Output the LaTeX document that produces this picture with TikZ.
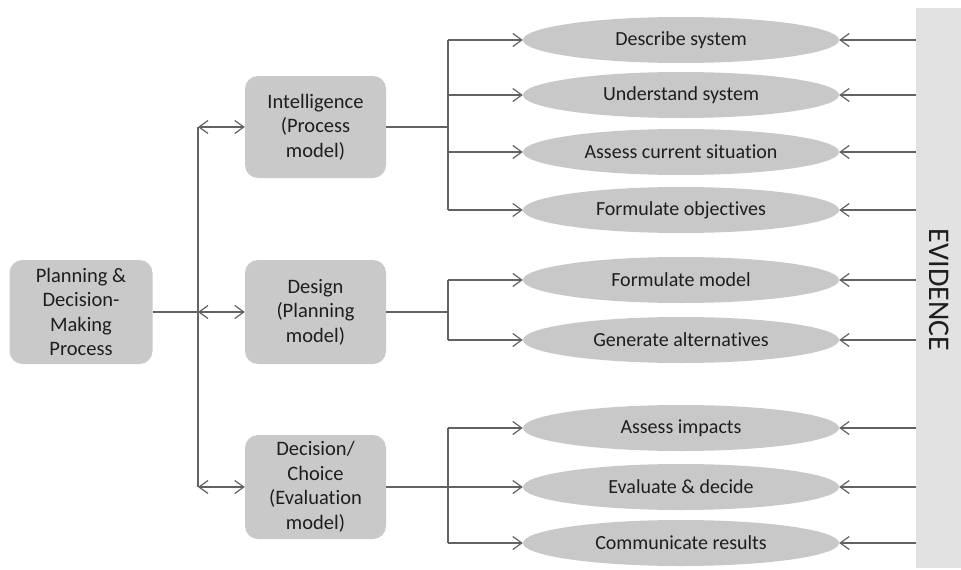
\documentclass[tikz,border=0pt]{standalone}
\usepackage{fontspec}
\setmainfont{Carlito}[Ligatures=NoCommon]
\usetikzlibrary{shapes.geometric,arrows.meta}
\definecolor{boxgray}{HTML}{C9C9C9}
\definecolor{ellgray}{HTML}{C8C8C8}
\definecolor{bargray}{HTML}{E2E2E2}
\definecolor{linegray}{HTML}{626262}
\definecolor{textgray}{HTML}{1E1E1E}
\tikzset{
  x=1pt, y=-1pt,
  procbox/.style={draw=none, fill=boxgray, rounded corners=13pt, align=center,
    text=textgray, font=\fontsize{20.5}{24.5}\selectfont, inner sep=0pt},
  task/.style={ellipse, draw=none, fill=ellgray, minimum width=316pt,
    minimum height=46pt, inner sep=0pt, text=textgray,
    font=\fontsize{20}{24}\selectfont},
  wire/.style={draw=linegray, line width=1.2pt},
  feed/.style={wire, -{Straight Barb[length=9pt,width=13pt,line width=1.2pt]}},
  twoway/.style={wire, {Straight Barb[length=9pt,width=13pt,line width=1.2pt]}-{Straight Barb[length=9pt,width=13pt,line width=1.2pt]}},
}
\begin{document}
\begin{tikzpicture}
\useasboundingbox (0,0) rectangle (961,570);
\fill[white] (0,0) rectangle (961,570);

% evidence bar
\node[fill=bargray, minimum width=45pt, minimum height=560pt, inner sep=0pt,
  anchor=north west] (evid) at (916,8) {};
\node[rotate=-90, text=textgray, font=\fontsize{30}{32}\selectfont] (evidlbl) at (939,290) {EVIDENCE};

% process boxes
\node[procbox, minimum width=143pt, minimum height=104pt] (plan) at (81,312) {Planning \&\\Decision-\\Making\\Process};
\node[procbox, minimum width=141pt, minimum height=102pt] (intel) at (315.5,127) {Intelligence\\(Process\\model)};
\node[procbox, minimum width=141pt, minimum height=104pt] (design) at (315.5,312) {Design\\(Planning\\model)};
\node[procbox, minimum width=141pt, minimum height=104pt] (choice) at (315.5,487) {Decision/\\Choice\\(Evaluation\\model)};

% tasks
\node[task] (t1) at (681,40) {Describe system};
\node[task] (t2) at (681,95) {Understand system};
\node[task] (t3) at (681,152) {Assess current situation};
\node[task] (t4) at (681,210) {Formulate objectives};
\node[task] (t5) at (681,280) {Formulate model};
\node[task] (t6) at (681,340) {Generate alternatives};
\node[task] (t7) at (681,428) {Assess impacts};
\node[task] (t8) at (681,487) {Evaluate \& decide};
\node[task] (t9) at (681,543) {Communicate results};

% main bus
\coordinate (mtop) at (198,127);
\coordinate (mmid) at (198,312);
\coordinate (mbot) at (198,487);
\draw[wire] (mtop) -- (mbot);
\draw[wire] (plan.east) -- (mmid);
\draw[twoway] (mtop) -- (intel.west);
\draw[twoway] (mmid) -- (design.west);
\draw[twoway] (mbot) -- (choice.west);

% intelligence branch
\coordinate (ia) at (448,40);
\coordinate (ib) at (448,95);
\coordinate (ic) at (448,152);
\coordinate (id) at (448,210);
\coordinate (im) at (448,127);
\draw[wire] (ia) -- (id);
\draw[wire] (intel.east) -- (im);
\draw[feed] (ia) -- (t1.west);
\draw[feed] (ib) -- (t2.west);
\draw[feed] (ic) -- (t3.west);
\draw[feed] (id) -- (t4.west);

% design branch
\coordinate (da) at (448,280);
\coordinate (db) at (448,340);
\coordinate (dm) at (448,312);
\draw[wire] (da) -- (db);
\draw[wire] (design.east) -- (dm);
\draw[feed] (da) -- (t5.west);
\draw[feed] (db) -- (t6.west);

% decision branch
\coordinate (ca) at (448,428);
\coordinate (cc) at (448,543);
\draw[wire] (ca) -- (cc);
\draw[feed] (choice.east) -- (t8.west);
\draw[feed] (ca) -- (t7.west);
\draw[feed] (cc) -- (t9.west);

% evidence feeds
\foreach \t in {t1,t2,t3,t4,t5,t6,t7,t8,t9}
  \draw[feed] (evid.west |- \t.east) -- (\t.east);
\end{tikzpicture}
\end{document}
